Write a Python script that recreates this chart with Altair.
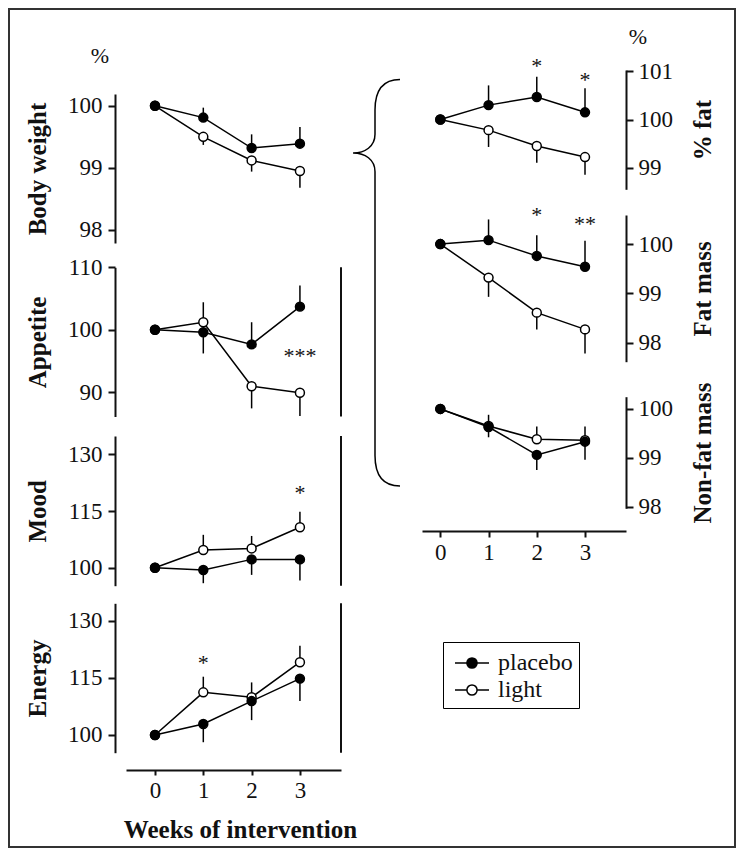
import altair as alt
import pandas as pd

SERIF = "Liberation Serif"
INK = "#111111"
OX, OY = 8, 8          # page margin: image pixel -> plot pixel
W, H = 728, 840

WEEKS = [0, 1, 2, 3]
GROUPS = ["placebo", "light"]

# ---- data (values in % of baseline) ----
BW_PLACEBO = [100, 99.81, 99.32, 99.39]
BW_PLACEBO_TIP = [100, 99.97, 99.54, 99.66]
BW_LIGHT = [100, 99.50, 99.12, 98.95]
BW_LIGHT_TIP = [100, 99.37, 98.94, 98.68]

APP_PLACEBO = [100, 99.6, 97.65, 103.7]
APP_PLACEBO_TIP = [100, 96.2, 101.2, 107.1]
APP_LIGHT = [100, 101.2, 90.95, 89.9]
APP_LIGHT_TIP = [100, 104.4, 87.4, 86.2]

MOOD_PLACEBO = [100, 99.4, 102.2, 102.2]
MOOD_PLACEBO_TIP = [100, 95.9, 98.1, 96.6]
MOOD_LIGHT = [100, 104.7, 105.1, 110.7]
MOOD_LIGHT_TIP = [100, 108.7, 108.4, 114.8]

EN_PLACEBO = [100, 102.9, 108.9, 114.8]
EN_PLACEBO_TIP = [100, 98.1, 103.9, 108.9]
EN_LIGHT = [100, 111.2, 109.9, 119.1]
EN_LIGHT_TIP = [100, 115.3, 113.8, 123.4]

PF_PLACEBO = [100, 100.30, 100.47, 100.15]
PF_PLACEBO_TIP = [100, 100.71, 100.89, 100.65]
PF_LIGHT = [100, 99.78, 99.45, 99.22]
PF_LIGHT_TIP = [100, 99.43, 99.10, 98.85]

FM_PLACEBO = [100, 100.08, 99.76, 99.54]
FM_PLACEBO_TIP = [100, 100.50, 100.18, 100.07]
FM_LIGHT = [100, 99.32, 98.61, 98.27]
FM_LIGHT_TIP = [100, 98.93, 98.27, 97.78]

NFM_PLACEBO = [100, 99.63, 99.06, 99.33]
NFM_PLACEBO_TIP = [100, 99.42, 98.75, 98.96]
NFM_LIGHT = [100, 99.65, 99.38, 99.36]
NFM_LIGHT_TIP = [100, 99.88, 99.64, 99.64]

# significance marks: (week, y position, label)
APP_STARS = [(3, 96.2, "***")]
MOOD_STARS = [(3, 120.6, "*")]
EN_STARS = [(1, 119.7, "*")]
PF_STARS = [(2, 101.17, "*"), (3, 100.89, "*")]
FM_STARS = [(2, 100.65, "*"), (3, 100.47, "**")]

# ---- layout (image pixels) ----
LEFT_X = {"domain": [-0.6, 3.85], "range": [126, 341]}
RIGHT_X = {"domain": [-0.38, 3.85], "range": [422, 626]}
LEFT_AXIS_X = 115
RIGHT_AXIS_X = 626

PANELS = [
    dict(title="Body weight", col="L", dom=[97.79, 100.19], rng=[243, 94], ticks=[98, 99, 100],
         p=BW_PLACEBO, pt=BW_PLACEBO_TIP, l=BW_LIGHT, lt=BW_LIGHT_TIP, stars=[], rule=False, xaxis=False),
    dict(title="Appetite", col="L", dom=[86.1, 110.0], rng=[416.5, 267.3], ticks=[90, 100, 110],
         p=APP_PLACEBO, pt=APP_PLACEBO_TIP, l=APP_LIGHT, lt=APP_LIGHT_TIP, stars=APP_STARS, rule=True, xaxis=False),
    dict(title="Mood", col="L", dom=[95.24, 134.84], rng=[585.7, 436], ticks=[100, 115, 130],
         p=MOOD_PLACEBO, pt=MOOD_PLACEBO_TIP, l=MOOD_LIGHT, lt=MOOD_LIGHT_TIP, stars=MOOD_STARS, rule=True, xaxis=False),
    dict(title="Energy", col="L", dom=[95.35, 134.57], rng=[752.7, 603.3], ticks=[100, 115, 130],
         p=EN_PLACEBO, pt=EN_PLACEBO_TIP, l=EN_LIGHT, lt=EN_LIGHT_TIP, stars=EN_STARS, rule=True, xaxis=True),
    dict(title="% fat", col="R", dom=[98.55, 101.03], rng=[189.3, 70], ticks=[99, 100, 101],
         p=PF_PLACEBO, pt=PF_PLACEBO_TIP, l=PF_LIGHT, lt=PF_LIGHT_TIP, stars=PF_STARS, rule=False, xaxis=False),
    dict(title="Fat mass", col="R", dom=[97.615, 100.59], rng=[361.7, 215], ticks=[98, 99, 100],
         p=FM_PLACEBO, pt=FM_PLACEBO_TIP, l=FM_LIGHT, lt=FM_LIGHT_TIP, stars=FM_STARS, rule=False, xaxis=False),
    dict(title="Non-fat mass", col="R", dom=[97.967, 100.25], rng=[508.3, 396.7], ticks=[98, 99, 100],
         p=NFM_PLACEBO, pt=NFM_PLACEBO_TIP, l=NFM_LIGHT, lt=NFM_LIGHT_TIP, stars=[], rule=False, xaxis=True),
]

# legend symbol: short line with a circle, shifted right inside its layout box
LEGEND_PATH = ("M -0.643 0 L 0.207 0 M 1.786 0 L 0.935 0 "
               "M 0.935 0 A 0.364 0.364 0 1 1 0.207 0 A 0.364 0.364 0 1 1 0.935 0 Z")
BRACE_PATH = ("M 0.123 -1 C 0.04 -1 0 -0.95 0 -0.85 L 0 -0.73 "
              "C 0 -0.67 -0.05 -0.638 -0.108 -0.638 "
              "C -0.05 -0.638 0 -0.606 0 -0.546 L 0 0.85 "
              "C 0 0.95 0.04 1 0.123 1")

FILL_SCALE = alt.Scale(domain=GROUPS, range=["black", "white"])
LEGEND = alt.Legend(orient="none", legendX=435, legendY=634, title=None,
                    symbolType=LEGEND_PATH, symbolSize=784, symbolStrokeColor="black",
                    symbolStrokeWidth=1.5, labelFont=SERIF, labelFontSize=24, labelColor=INK,
                    strokeColor="black", padding=6, rowPadding=0, labelOffset=19,
                    direction="vertical")


def make_panel(p):
    rows = []
    for grp, vals, tips in (("light", p["l"], p["lt"]), ("placebo", p["p"], p["pt"])):
        for w, v, t in zip(WEEKS, vals, tips):
            rows.append({"week": w, "value": v, "tip": t, "group": grp})
    df = pd.DataFrame(rows)

    xc = LEFT_X if p["col"] == "L" else RIGHT_X
    xscale = alt.Scale(domain=xc["domain"], range=[xc["range"][0] - OX, xc["range"][1] - OX],
                       nice=False, zero=False)
    if p["xaxis"] and p["col"] == "L":
        xaxis = alt.Axis(orient="bottom", offset=(770 - OY) - H, values=WEEKS, format="d",
                         tickSize=5, labelPadding=4, labelFlush=False,
                         title="Weeks of intervention", titleX=232, titleY=67,
                         titleBaseline="alphabetic", titleAnchor="middle")
    elif p["xaxis"]:
        xaxis = alt.Axis(orient="bottom", offset=(531 - OY) - H, values=WEEKS, format="d",
                         tickSize=6, labelPadding=4, labelFlush=False, title=None)
    else:
        xaxis = None
    x = alt.X("week:Q", scale=xscale, axis=xaxis)

    yscale = alt.Scale(domain=p["dom"], range=[p["rng"][0] - OY, p["rng"][1] - OY],
                       nice=False, zero=False)
    if p["col"] == "L":
        yaxis = alt.Axis(orient="left", offset=-(LEFT_AXIS_X - OX), values=p["ticks"], format="d",
                         tickSize=7, labelPadding=6, title=p["title"], titleX=37 - LEFT_AXIS_X,
                         titleAngle=270, titleBaseline="middle")
    else:
        yaxis = alt.Axis(orient="right", offset=(RIGHT_AXIS_X - OX) - W, values=p["ticks"],
                         format="d", tickSize=7, labelPadding=5, title=p["title"],
                         titleX=702 - RIGHT_AXIS_X, titleAngle=270, titleBaseline="middle")
    y = alt.Y("value:Q", scale=yscale, axis=yaxis)

    base = alt.Chart(df)
    line = base.mark_line(color="black", strokeWidth=1.5).encode(x=x, y=y, detail="group:N")
    err = base.mark_rule(color="black", strokeWidth=1.5).encode(x=x, y=y, y2="tip:Q")
    pts = base.mark_point(filled=True, size=80, stroke="black", strokeWidth=1.5, opacity=1).encode(
        x=x, y=y, fill=alt.Fill("group:N", scale=FILL_SCALE, legend=LEGEND))
    layers = [line, err, pts]
    if p["stars"]:
        sdf = pd.DataFrame({"week": [s[0] for s in p["stars"]],
                            "value": [s[1] for s in p["stars"]],
                            "label": [s[2] for s in p["stars"]]})
        layers.append(alt.Chart(sdf).mark_text(font=SERIF, fontSize=22, baseline="alphabetic",
                                               dy=10, color=INK).encode(x=x, y=y, text="label:N"))
    if p["rule"]:
        layers.append(alt.Chart(pd.DataFrame({"a": [0]})).mark_rule(color=INK, strokeWidth=2).encode(
            x=alt.datum(xc["domain"][1]), y=alt.datum(p["dom"][0]), y2=alt.datum(p["dom"][1])))
    return alt.layer(*layers)


deco_df = pd.DataFrame({"a": [0]})
brace = alt.Chart(deco_df).mark_point(shape=BRACE_PATH, filled=False, stroke="black", strokeWidth=1.5,
                                      opacity=1, size=165324).encode(
    x=alt.value(375 - OX), y=alt.value(282.7 - OY))
pct_left = alt.Chart(deco_df).mark_text(text="%", font=SERIF, fontSize=22, color=INK,
                                        baseline="middle").encode(x=alt.value(100 - OX), y=alt.value(56 - OY))
pct_right = alt.Chart(deco_df).mark_text(text="%", font=SERIF, fontSize=22, color=INK,
                                         baseline="middle").encode(x=alt.value(638 - OX), y=alt.value(37 - OY))

chart = alt.layer(*[make_panel(p) for p in PANELS], brace, pct_left, pct_right).resolve_scale(
    x="independent", y="independent"
).properties(
    width=W, height=H, padding=0, autosize=alt.AutoSizeParams(type="none")
).configure_axis(
    labelFont=SERIF, titleFont=SERIF, labelColor=INK, titleColor=INK, domainColor=INK, tickColor=INK,
    domainWidth=2, tickWidth=2, grid=False, labelFontSize=23, titleFontSize=25,
    titleFontWeight="bold", labelOverlap=False
).configure_view(stroke="#333333", strokeWidth=4)

chart.save("out.html", embed_options={"renderer": "svg", "actions": False})
